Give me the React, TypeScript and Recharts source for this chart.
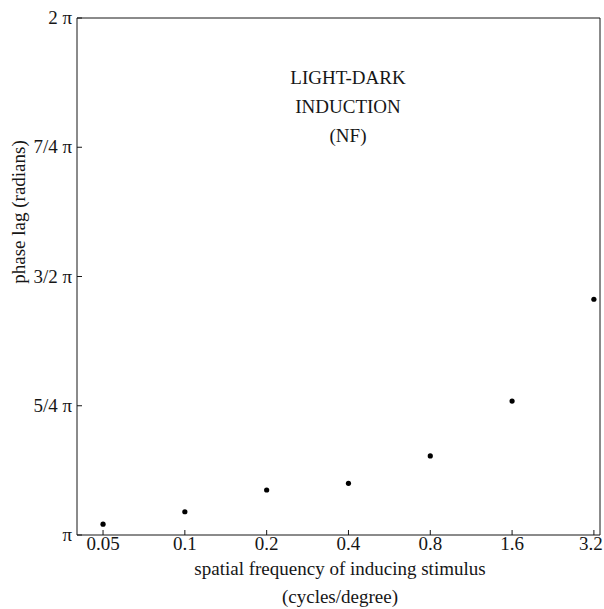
import { ScatterChart, Scatter, XAxis, YAxis, ReferenceLine } from 'recharts'

// spatial frequency (cycles/degree) and phase lag in units of π
const frequencies = [0.05, 0.1, 0.2, 0.4, 0.8, 1.6, 3.2]
const phaseLag = [1.021, 1.045, 1.087, 1.1, 1.153, 1.259, 1.456]

const xTicks = [0.05, 0.1, 0.2, 0.4, 0.8, 1.6, 3.2]
const yTicks = [1, 1.25, 1.5, 1.75, 2]
const yTickLabels = ['π', '5/4 π', '3/2 π', '7/4 π', '2 π']

const annotationLines = ['LIGHT-DARK', 'INDUCTION', '(NF)']

const points = frequencies.map((f, i) => ({ f, lag: phaseLag[i] }))

const FONT = '"Liberation Serif", "DejaVu Serif", serif'
const INK = '#161616'
const X_DOMAIN = [0.0401, 3.37]

function XTick(props: any) {
  const { x, y, payload } = props
  // last label sits against the right edge, pull it in a touch
  const dx = payload.value === xTicks[xTicks.length - 1] ? -3 : 0
  return (
    <g>
      <line x1={x} y1={y} x2={x} y2={y - 5} stroke={INK} strokeWidth={1} />
      <text x={x + dx} y={y + 15} textAnchor="middle" fontFamily={FONT} fontSize={19} fill={INK}>
        {payload.value}
      </text>
    </g>
  )
}

function YTick(props: any) {
  const { x, y, payload } = props
  const idx = yTicks.indexOf(payload.value)
  return (
    <g>
      <line x1={x} y1={y} x2={x + 5} y2={y} stroke={INK} strokeWidth={1} />
      <text x={x - 5} y={y + 6} textAnchor="end" fontFamily={FONT} fontSize={19} fill={INK}>
        {yTickLabels[idx]}
      </text>
    </g>
  )
}

function XTitle() {
  return (
    <g fontFamily={FONT} fontSize={19} fill={INK}>
      <text x={340} y={575} textAnchor="middle">spatial frequency of inducing stimulus</text>
      <text x={340} y={603} textAnchor="middle">(cycles/degree)</text>
    </g>
  )
}

function YTitle() {
  return (
    <text
      x={25}
      y={212}
      transform="rotate(-90, 25, 212)"
      textAnchor="middle"
      fontFamily={FONT}
      fontSize={19}
      fill={INK}
    >
      phase lag (radians)
    </text>
  )
}

function Dot(props: any) {
  const { cx, cy } = props
  return <circle cx={cx} cy={cy} r={2.6} fill="#000" />
}

export default function App() {
  return (
    <div style={{ position: 'absolute', left: 0, top: 0, background: '#fff' }}>
      <ScatterChart width={604} height={609} margin={{ top: 18, right: 4, left: 0, bottom: 0 }}>
        <XAxis
          dataKey="f"
          type="number"
          scale="log"
          domain={X_DOMAIN}
          allowDataOverflow
          ticks={xTicks}
          interval={0}
          height={74}
          tickSize={0}
          tickMargin={0}
          tickLine={false}
          tick={<XTick />}
          axisLine={{ stroke: INK, strokeWidth: 1 }}
          label={<XTitle />}
        />
        <YAxis
          dataKey="lag"
          type="number"
          domain={[1, 2]}
          ticks={yTicks}
          interval={0}
          width={77}
          tickSize={0}
          tickMargin={0}
          tickLine={false}
          tick={<YTick />}
          axisLine={{ stroke: INK, strokeWidth: 1 }}
          label={<YTitle />}
        />
        {/* box frame: top and right edges */}
        <ReferenceLine y={2} stroke={INK} strokeWidth={1} ifOverflow="visible" />
        <ReferenceLine x={X_DOMAIN[1]} stroke={INK} strokeWidth={1} ifOverflow="visible" />
        <Scatter data={points} fill="#000" shape={<Dot />} isAnimationActive={false} />
        <g fontFamily={FONT} fontSize={19} fill={INK}>
          {annotationLines.map((t, i) => (
            <text key={t} x={348} y={84 + i * 29} textAnchor="middle">
              {t}
            </text>
          ))}
        </g>
      </ScatterChart>
    </div>
  )
}
